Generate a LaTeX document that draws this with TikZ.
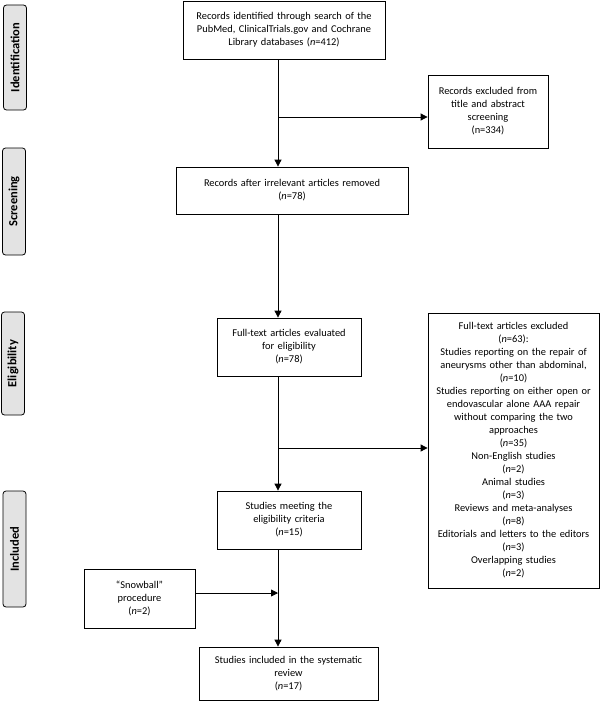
\documentclass[tikz,border=0pt]{standalone}
\usepackage{fontspec}
\setmainfont{Carlito}
\usetikzlibrary{arrows.meta}
\begin{document}
\begin{tikzpicture}[x=1pt,y=-1pt,
  box/.style={draw=black,line width=0.8pt,fill=white,align=center,inner sep=2pt,
    font=\fontsize{10.4}{13}\selectfont},
  side/.style={draw=black,line width=0.8pt,fill=black!11,rounded corners=3pt,rotate=90,
    minimum height=23pt,inner sep=0pt,font=\fontsize{12.5}{14}\selectfont\bfseries},
  arr/.style={line width=0.8pt,-{Triangle[length=7pt,width=7pt]}},
  ln/.style={line width=0.8pt}]
\useasboundingbox (0,0) rectangle (600,701);
% side labels
\node[side,minimum width=105pt] (sid) at (15,57.5) {Identification};
\node[side,minimum width=107pt] (ssc) at (14,201.5) {Screening};
\node[side,minimum width=103pt] (sel) at (13,363.5) {Eligibility};
\node[side,minimum width=116pt] (sin) at (14.5,549) {Included};
% boxes
\node[box,minimum width=202pt,minimum height=58pt,text width=198pt] (b1) at (284,30)
  {Records identified through search of the\\PubMed, ClinicalTrials.gov and Cochrane\\Library databases (\textit{n}=412)};
\node[box,minimum width=120pt,minimum height=73pt,text width=116pt] (e1) at (488,111.5)
  {Records excluded from\\title and abstract\\screening\\(n=334)};
\node[box,minimum width=232pt,minimum height=47pt,text width=226pt] (b2) at (292,190.5)
  {Records after irrelevant articles removed\\(\textit{n}=78)};
\node[box,minimum width=144pt,minimum height=58pt,text width=138pt] (b3) at (289,347)
  {Full-text articles evaluated\\for eligibility\\(\textit{n}=78)};
\node[box,minimum width=171pt,minimum height=275pt,text width=167pt] (e2) at (513.5,450.5)
  {Full-text articles excluded\\(\textit{n}=63):\\Studies reporting on the repair of\\aneurysms other than abdominal,\\(\textit{n}=10)\\Studies reporting on either open or\\endovascular alone AAA repair\\without comparing the two\\approaches\\(\textit{n}=35)\\Non-English studies\\(\textit{n}=2)\\Animal studies\\(\textit{n}=3)\\Reviews and meta-analyses\\(\textit{n}=8)\\Editorials and letters to the editors\\(\textit{n}=3)\\Overlapping studies\\(\textit{n}=2)};
\node[box,minimum width=144pt,minimum height=58pt,text width=138pt] (b4) at (289,520)
  {Studies meeting the\\eligibility criteria\\(\textit{n}=15)};
\node[box,minimum width=111pt,minimum height=59pt,text width=105pt] (sn) at (139.5,598.5)
  {``Snowball''\\procedure\\(\textit{n}=2)};
\node[box,minimum width=179pt,minimum height=53pt,text width=173pt] (b5) at (288.5,673.5)
  {Studies included in the systematic\\review\\(\textit{n}=17)};
% connectors
\coordinate (mx) at (278,0);
\coordinate (j1) at (278,117);
\coordinate (j2) at (278,448);
\coordinate (j3) at (278,593);
\draw[arr] (b1.south -| mx) -- (b2.north -| mx);
\draw[arr] (j1) -- (e1.west |- j1);
\draw[arr] (b2.south -| mx) -- (b3.north -| mx);
\draw[arr] (b3.south -| mx) -- (b4.north -| mx);
\draw[arr] (j2) -- (e2.west |- j2);
\draw[arr] (b4.south -| mx) -- (b5.north -| mx);
\draw[arr] (sn.east |- j3) -- (j3);
\end{tikzpicture}
\end{document}
